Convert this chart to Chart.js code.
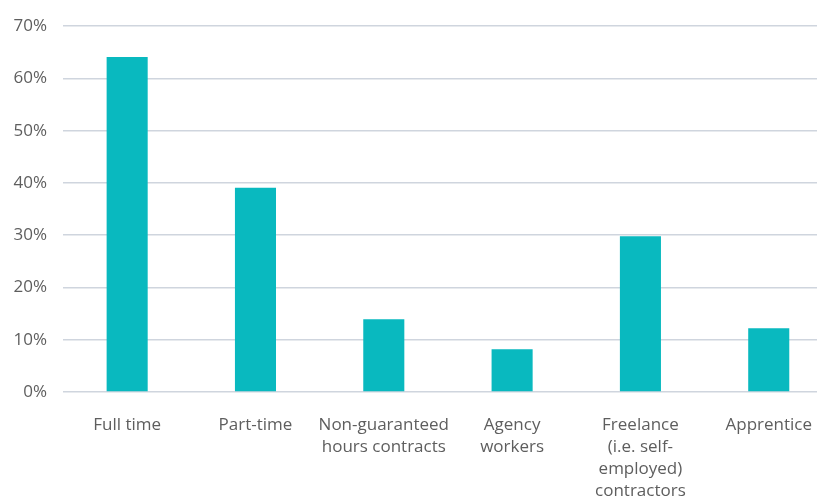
<!DOCTYPE html>
<html>
<head>
<meta charset="utf-8">
<script src="https://cdn.jsdelivr.net/npm/chart.js@4"></script>
<style>
  html, body { margin: 0; padding: 0; background: #fff; overflow: hidden; }
  #wrap { width: 834px; height: 500px; }
</style>
</head>
<body>
<div id="wrap"><canvas id="chart"></canvas></div>
<script>
let categories = [
    'Full time',
    'Part-time',
    ['Non-guaranteed', 'hours contracts'],
    ['Agency', 'workers'],
    ['Freelance', '(i.e. self-', 'employed)', 'contractors'],
    'Apprentice'
];
let shares = [64.1, 39.1, 13.9, 8.2, 29.8, 12.2];
let yTicks = [0, 10, 20, 30, 40, 50, 60, 70];

let ctx = document.getElementById('chart').getContext('2d');

let chart = new Chart(ctx, {
    type: 'bar',
    data: {
        labels: categories,
        datasets: [{
            data: shares,
            backgroundColor: '#09b9bf',
            barPercentage: 0.32,
            categoryPercentage: 1
        }]
    },
    options: {
        responsive: true,
        maintainAspectRatio: false,
        animation: false,
        layout: { padding: { top: 25, right: 0, left: 0, bottom: 0 } },
        plugins: {
            legend: { display: false },
            tooltip: { enabled: false }
        },
        scales: {
            x: {
                grid: { display: false, drawTicks: false },
                border: { display: false },
                ticks: {
                    color: '#5e5e5e',
                    font: { family: 'Open Sans', size: 17, lineHeight: 1.3 },
                    padding: 22,
                    maxRotation: 0,
                    autoSkip: false
                },
                afterFit: function(scale) { scale.height = 108; }
            },
            y: {
                min: 0,
                max: 70,
                afterBuildTicks: function(scale) {
                    scale.ticks = yTicks.map(v => ({ value: v }));
                },
                grid: { color: '#cfd5de', lineWidth: 1.5, drawTicks: false },
                border: { display: false },
                ticks: {
                    color: '#5e5e5e',
                    font: { family: 'Open Sans', size: 17 },
                    padding: 16,
                    callback: v => v + '%'
                },
                afterFit: function(scale) { scale.width = 63; }
            }
        }
    }
});
</script>
</body>
</html>
